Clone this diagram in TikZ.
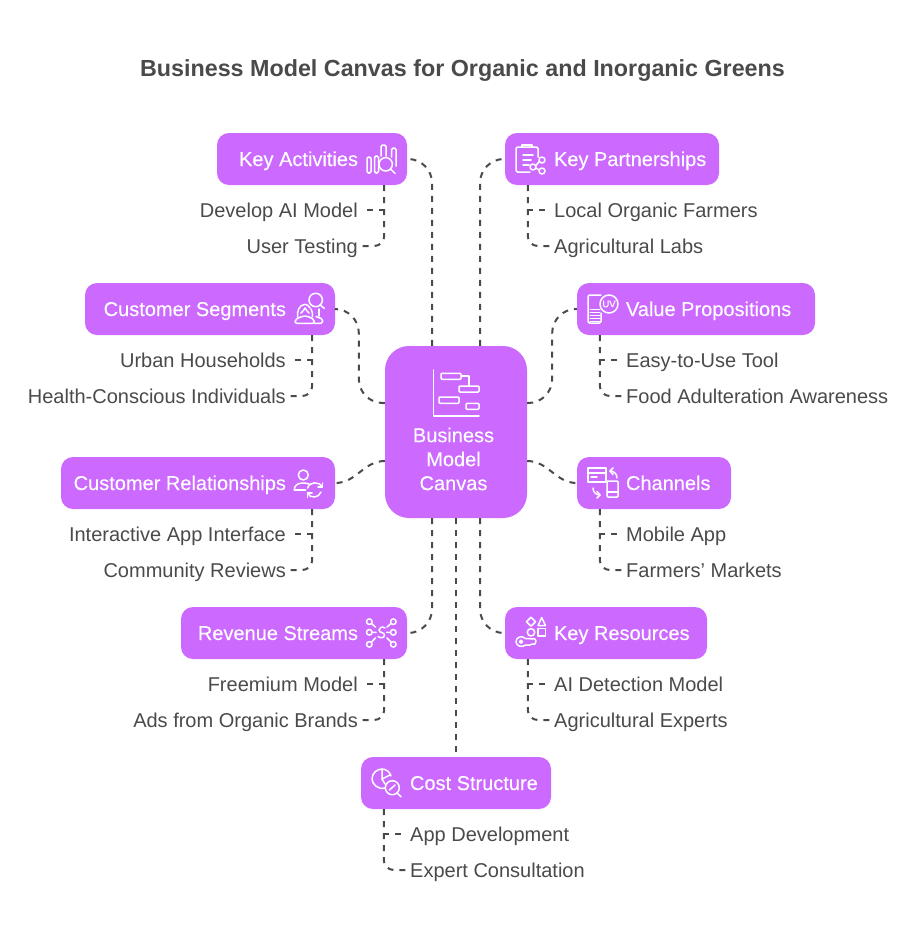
\documentclass[tikz,border=0pt]{standalone}
\usepackage{fontspec}
\setmainfont{Liberation Sans}
\newfontfamily\cardfont[FakeBold=0.12]{Liberation Sans}
\usetikzlibrary{positioning}
\definecolor{cardfill}{HTML}{CC69FF}
\definecolor{inkgray}{HTML}{4A4A4A}
\tikzset{
  card/.style={fill=cardfill, rounded corners=12pt, text=white, font=\cardfont\fontsize{20}{24}\selectfont, text width=#1, inner xsep=0pt, inner ysep=0pt, minimum height=52pt, text height=14pt, text depth=0pt},
  cardl/.style={card=#1, align=flush left},
  cardr/.style={card=#1, align=flush right},
  itemtext/.style={text=inkgray, font=\fontsize{20}{24}\selectfont, inner xsep=4pt, inner ysep=0pt, text height=14pt, text depth=0pt},
  link/.style={draw=inkgray, line width=2pt, dash pattern=on 6pt off 6pt},
  iconline/.style={draw=white, line width=1.5pt, line cap=round, line join=round},
}
\begin{document}
\begin{tikzpicture}[x=1pt,y=-1pt]
    \useasboundingbox (0,0) rectangle (924,930);

    \node[text=inkgray, font=\fontsize{23.3}{28}\selectfont\bfseries, inner sep=0pt] (title) at (462.5,71) {Business Model Canvas for Organic and Inorganic Greens};

    % Centre
    \node[fill=cardfill, rounded corners=24pt, minimum width=142pt, minimum height=172pt, inner sep=0pt] (hub) at (456,432) {};
    \node[text=white, align=center, font=\cardfont\fontsize{20}{24}\selectfont, inner sep=0pt] (hubtext) at (453.5,459) {Business\\Model\\Canvas};

    % Cards on the left
    \node[cardr=190pt] (kact) at (312,159) {Key Activities\hspace*{49pt}};
    \node[cardr=250pt] (cseg) at (210,309) {Customer Segments\hspace*{49pt}};
    \node[cardr=274pt] (crel) at (198,483) {Customer Relationships\hspace*{49pt}};
    \node[cardr=226pt] (rev) at (294,633) {Revenue Streams\hspace*{49pt}};

    % Cards on the right
    \node[cardl=214pt] (kpar) at (612,159) {\hspace*{49pt}Key Partnerships};
    \node[cardl=238pt] (vprop) at (696,309) {\hspace*{49pt}Value Propositions};
    \node[cardl=154pt] (chan) at (654,483) {\hspace*{49pt}Channels};
    \node[cardl=202pt] (kres) at (606,633) {\hspace*{49pt}Key Resources};
    \node[cardl=190pt] (cost) at (456,783) {\hspace*{49pt}Cost Structure};

    % Items
    \node[itemtext, anchor=east] (dev) at (362,210) {Develop AI Model};
    \node[itemtext, anchor=east] (test) at (362,246) {User Testing};
    \node[itemtext, anchor=east] (urban) at (290,360) {Urban Households};
    \node[itemtext, anchor=east] (health) at (290,396) {Health-Conscious Individuals};
    \node[itemtext, anchor=east] (iface) at (290,534) {Interactive App Interface};
    \node[itemtext, anchor=east] (review) at (290,570) {Community Reviews};
    \node[itemtext, anchor=east] (free) at (362,684) {Freemium Model};
    \node[itemtext, anchor=east] (ads) at (362,720) {Ads from Organic Brands};
    \node[itemtext, anchor=west] (farm) at (550,210) {Local Organic Farmers};
    \node[itemtext, anchor=west] (labs) at (550,246) {Agricultural Labs};
    \node[itemtext, anchor=west] (easy) at (622,360) {Easy-to-Use Tool};
    \node[itemtext, anchor=west] (aware) at (622,396) {Food Adulteration Awareness};
    \node[itemtext, anchor=west] (mob) at (622,534) {Mobile App};
    \node[itemtext, anchor=west] (market) at (622,570) {Farmers’ Markets};
    \node[itemtext, anchor=west] (aidet) at (550,684) {AI Detection Model};
    \node[itemtext, anchor=west] (exper) at (550,720) {Agricultural Experts};
    \node[itemtext, anchor=west] (appdev) at (406,834) {App Development};
    \node[itemtext, anchor=west] (consult) at (406,870) {Expert Consultation};

    % Links from the centre
    \draw[link, rounded corners=24pt] ([xshift=-24pt]hub.north) |- (kact.east);
    \draw[link, rounded corners=24pt] ([xshift=24pt]hub.north) |- (kpar.west);
    \draw[link, rounded corners=24pt] ([yshift=29pt]hub.west) -- ++(-26,0) |- (cseg.east);
    \draw[link, rounded corners=24pt] ([yshift=29pt]hub.east) -- ++(25,0) |- (vprop.west);
    \draw[link] ([yshift=-29pt]hub.west) to[out=180,in=0] (crel.east);
    \draw[link] ([yshift=-29pt]hub.east) to[out=0,in=180] (chan.west);
    \draw[link, rounded corners=24pt] ([xshift=-24pt]hub.south) |- (rev.east);
    \draw[link, rounded corners=24pt] ([xshift=24pt]hub.south) |- (kres.west);
    \draw[link] (hub.south) -- (cost.north);

    % Links to the items
    \draw[link] ([xshift=-23pt]kact.south east) |- (dev.east);
    \draw[link, rounded corners=10pt] ([xshift=-23pt]kact.south east) |- (test.east);
    \draw[link] ([xshift=-23pt]cseg.south east) |- (urban.east);
    \draw[link, rounded corners=10pt] ([xshift=-23pt]cseg.south east) |- (health.east);
    \draw[link] ([xshift=-23pt]crel.south east) |- (iface.east);
    \draw[link, rounded corners=10pt] ([xshift=-23pt]crel.south east) |- (review.east);
    \draw[link] ([xshift=-23pt]rev.south east) |- (free.east);
    \draw[link, rounded corners=10pt] ([xshift=-23pt]rev.south east) |- (ads.east);
    \draw[link] ([xshift=23pt]kpar.south west) |- (farm.west);
    \draw[link, rounded corners=10pt] ([xshift=23pt]kpar.south west) |- (labs.west);
    \draw[link] ([xshift=23pt]vprop.south west) |- (easy.west);
    \draw[link, rounded corners=10pt] ([xshift=23pt]vprop.south west) |- (aware.west);
    \draw[link] ([xshift=23pt]chan.south west) |- (mob.west);
    \draw[link, rounded corners=10pt] ([xshift=23pt]chan.south west) |- (market.west);
    \draw[link] ([xshift=23pt]kres.south west) |- (aidet.west);
    \draw[link, rounded corners=10pt] ([xshift=23pt]kres.south west) |- (exper.west);
    \draw[link] ([xshift=23pt]cost.south west) |- (appdev.west);
    \draw[link, rounded corners=10pt] ([xshift=23pt]cost.south west) |- (consult.west);

    % Icon: centre
    \draw[iconline] (433.3,370) -- (433.3,416) -- (479,416);
    \draw[iconline, rounded corners=1pt] (441,373.3) rectangle (461,379.3);
    \draw[iconline, rounded corners=1pt] (459,386) rectangle (479,392);
    \draw[iconline, rounded corners=1pt] (439,397) rectangle (459,403.3);
    \draw[iconline, rounded corners=1pt] (466,403.3) rectangle (479,409.3);
    \draw[iconline] (461,376) -- (469,376) -- (469,386);

    % Icon: key activities
    \draw[iconline, rounded corners=1.5] (367,157) rectangle (371,173);
    \draw[iconline, rounded corners=1.5] (374.5,156) rectangle (378.5,173);
    \draw[iconline, rounded corners=1.5] (381,156) -- (381,145) -- (386,145) -- (386,156);
    \draw[iconline, rounded corners=1.5] (391.7,157) -- (391.7,148) -- (396,148) -- (396,166);
    \draw[iconline] (385.7,164.3) circle[radius=6.7];
    \draw[iconline] (390.5,169) -- (395,173.3);

    % Icon: key partnerships
    \draw[iconline, rounded corners=1.5] (538,157) -- (538,147) -- (516,147) -- (516,172) -- (530,172);
    \draw[iconline] (522,147) -- (522,145) -- (532,145) -- (532,147);
    \draw[iconline] (523,155) -- (533,155) (523,160) -- (531,160) (523,165) -- (529,165);
    \draw[iconline] (542,160) circle[radius=3] (533,167) circle[radius=3] (542,171) circle[radius=3];
    \draw[iconline] (535.7,165.7) -- (539.3,161.5) (535.7,168) -- (539.3,170);

    % Icon: customer segments
    \draw[iconline] (315.7,300) circle[radius=6.7];
    \draw[iconline] (320,305) -- (324.3,308.3);
    \draw[iconline, rounded corners=2] (295,323.3) -- (295,319.5) -- (303,316) -- (307,316) -- (314.3,319.5) -- (314.3,323.3) -- cycle;
    \draw[iconline] (297.7,316.7) .. controls (297,311) and (299,305) .. (305,304.3) .. controls (307,304.3) and (309,306) .. (310,308);
    \draw[iconline] (312.5,316.7) .. controls (313,314) and (312,311) .. (311,309);
    \draw[iconline] (301,313) .. controls (303,311) and (304,310) .. (305,308) .. controls (306,310) and (308,312) .. (309,313);
    \draw[iconline, rounded corners=1.5] (314.3,323.3) -- (322.5,323.3) -- (322.5,319) -- (316,316.5);
    \draw[iconline] (319,316) -- (319,309);

    % Icon: value propositions
    \draw[iconline, rounded corners=1.5] (601,295) -- (588,295) -- (588,323) -- (601,323) -- (601,313);
    \draw[iconline, line width=1pt] (590,309) -- (600,309) (590,312) -- (600,312) (590,315) -- (600,315) (590,318) -- (600,318) (590,321) -- (600,321);
    \draw[iconline] (609,304) circle[radius=9];
    \node[text=white, inner sep=0pt, font=\cardfont\fontsize{9.5}{10}\selectfont] (uvmark) at (609,304) {UV};

    % Icon: customer relationships
    \draw[iconline] (303.3,475) circle[radius=5];
    \draw[iconline] (294.3,490) .. controls (294.3,485) and (298,483) .. (303,483) .. controls (306,483) and (308,483.5) .. (309,484);
    \draw[iconline] (294.3,490) -- (305.7,490);
    \draw[iconline] (307.7,488) .. controls (309.5,481.5) and (319,481) .. (322.3,487);
    \draw[iconline] (322.3,483) -- (322.3,487) -- (318,487);
    \draw[iconline] (321,492) .. controls (319,498) and (310,499) .. (307.5,493);
    \draw[iconline] (307.5,497.5) -- (307.5,493) -- (312,493);

    % Icon: channels
    \draw[iconline] (588,468) rectangle (606,482);
    \draw[iconline] (588,473) -- (606,473) (591,477) -- (597,477);
    \draw[iconline, rounded corners=1] (607,481) rectangle (618,497);
    \draw[iconline] (607,492) -- (618,492);
    \draw[iconline] (617,478) .. controls (617,474) and (614,471) .. (610,471);
    \draw[iconline] (613,468) -- (610,471) -- (613,474.5);
    \draw[iconline] (593,488) .. controls (593,492) and (596,495) .. (600,495);
    \draw[iconline] (597,491.5) -- (600,495) -- (597,498);

    % Icon: revenue streams
    \draw[iconline] (369.3,621.7) circle[radius=2.8] (369.3,632.3) circle[radius=2.8] (369.3,644.3) circle[radius=2.8];
    \draw[iconline] (393.3,621.7) circle[radius=2.8] (393.3,632.3) circle[radius=2.8] (393.3,644.3) circle[radius=2.8];
    \draw[iconline] (371.5,623.5) -- (375.5,627) (372.1,632.3) -- (376,632.3) (371.5,642) -- (375.5,638);
    \draw[iconline] (391,623.5) -- (387,627) (390.5,632.3) -- (386.5,632.3) (391,642) -- (387,638);
    \draw[iconline] (385,628) .. controls (382,626) and (379,627.5) .. (379,630) .. controls (379,633) and (384.5,632) .. (384.5,635) .. controls (384.5,638) and (380.5,638.5) .. (378,636.5);

    % Icon: key resources
    \draw[iconline] (531,617.2) -- (535.5,621.7) -- (531,626.2) -- (526.5,621.7) -- cycle;
    \draw[iconline] (541.7,617.5) -- (545.5,625.5) -- (538,625.5) -- cycle;
    \draw[iconline] (531,632.3) circle[radius=3.7];
    \draw[iconline] (538,628.6) rectangle (545.4,636);
    \draw[iconline] (521,641.7) circle[radius=1.5];
    \draw[iconline] (525.5,638.5) .. controls (522,635) and (516,637) .. (516,641.7) .. controls (516,646) and (522,648) .. (525.5,645) -- (530,645) -- (532,644) -- (535,644) -- (536,641) -- (535,639) -- (525.5,638.5);

    % Icon: cost structure
    \draw[iconline] (385,788) .. controls (378,790) and (372,784) .. (372,779) .. controls (372,773) and (377,769) .. (382,769) .. controls (386,769) and (390,772) .. (391,776);
    \draw[iconline] (382,769) -- (382,779) -- (385,784);
    \draw[iconline] (382,779) -- (390,775);
    \draw[iconline] (392.3,787.7) circle[radius=7];
    \draw[iconline] (389.5,790) -- (395,785);
    \draw[iconline] (397,793) -- (401,796.7);
\end{tikzpicture}
\end{document}
